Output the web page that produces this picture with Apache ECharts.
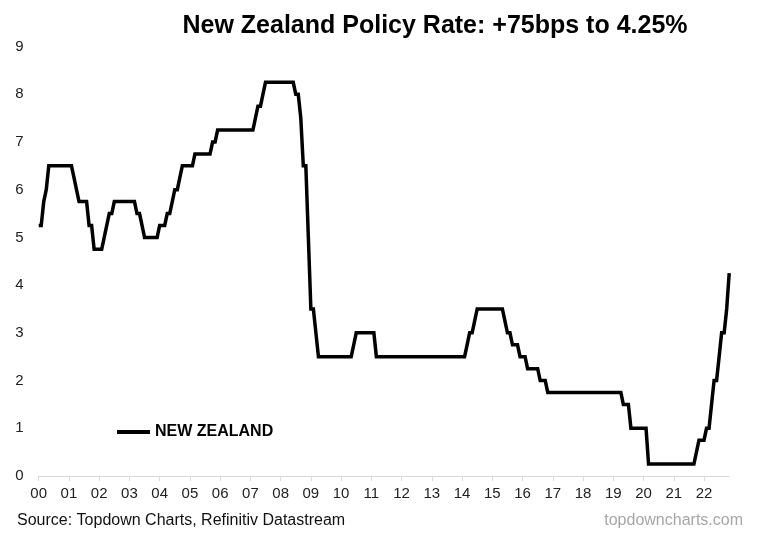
<!DOCTYPE html>
<html>
<head>
<meta charset="utf-8">
<script src="https://cdn.jsdelivr.net/npm/echarts@6/dist/echarts.min.js"></script>
<style>
html,body{margin:0;padding:0;background:#fff;}
#chart{width:758px;height:535px;}
</style>
</head>
<body>
<div id="chart"></div>
<script>
// Year labels (tick labels on x axis)
const yearLabels = ['00','01','02','03','04','05','06','07','08','09','10','11','12','13','14','15','16','17','18','19','20','21','22'];
const monthLabels = ['01','02','03','04','05','06','07','08','09','10','11','12'];
// Month-end policy rate, one array per year (Jan..Dec)
const y2000 = [5.25,5.25,5.75,6.0,6.5,6.5,6.5,6.5,6.5,6.5,6.5,6.5];
const y2001 = [6.5,6.5,6.25,6.0,5.75,5.75,5.75,5.75,5.25,5.25,4.75,4.75];
const y2002 = [4.75,4.75,5.0,5.25,5.5,5.5,5.75,5.75,5.75,5.75,5.75,5.75];
const y2003 = [5.75,5.75,5.75,5.5,5.5,5.25,5.0,5.0,5.0,5.0,5.0,5.0];
const y2004 = [5.25,5.25,5.25,5.5,5.5,5.75,6.0,6.0,6.25,6.5,6.5,6.5];
const y2005 = [6.5,6.5,6.75,6.75,6.75,6.75,6.75,6.75,6.75,7.0,7.0,7.25];
const y2006 = [7.25,7.25,7.25,7.25,7.25,7.25,7.25,7.25,7.25,7.25,7.25,7.25];
const y2007 = [7.25,7.25,7.5,7.75,7.75,8.0,8.25,8.25,8.25,8.25,8.25,8.25];
const y2008 = [8.25,8.25,8.25,8.25,8.25,8.25,8.0,8.0,7.5,6.5,6.5,5.0];
const y2009 = [3.5,3.5,3.0,2.5,2.5,2.5,2.5,2.5,2.5,2.5,2.5,2.5];
const y2010 = [2.5,2.5,2.5,2.5,2.5,2.75,3.0,3.0,3.0,3.0,3.0,3.0];
const y2011 = [3.0,3.0,2.5,2.5,2.5,2.5,2.5,2.5,2.5,2.5,2.5,2.5];
const y2012 = [2.5,2.5,2.5,2.5,2.5,2.5,2.5,2.5,2.5,2.5,2.5,2.5];
const y2013 = [2.5,2.5,2.5,2.5,2.5,2.5,2.5,2.5,2.5,2.5,2.5,2.5];
const y2014 = [2.5,2.5,2.75,3.0,3.0,3.25,3.5,3.5,3.5,3.5,3.5,3.5];
const y2015 = [3.5,3.5,3.5,3.5,3.5,3.25,3.0,3.0,2.75,2.75,2.75,2.5];
const y2016 = [2.5,2.5,2.25,2.25,2.25,2.25,2.25,2.0,2.0,2.0,1.75,1.75];
const y2017 = [1.75,1.75,1.75,1.75,1.75,1.75,1.75,1.75,1.75,1.75,1.75,1.75];
const y2018 = [1.75,1.75,1.75,1.75,1.75,1.75,1.75,1.75,1.75,1.75,1.75,1.75];
const y2019 = [1.75,1.75,1.75,1.75,1.5,1.5,1.5,1.0,1.0,1.0,1.0,1.0];
const y2020 = [1.0,1.0,0.25,0.25,0.25,0.25,0.25,0.25,0.25,0.25,0.25,0.25];
const y2021 = [0.25,0.25,0.25,0.25,0.25,0.25,0.25,0.25,0.25,0.5,0.75,0.75];
const y2022 = [0.75,1.0,1.0,1.5,2.0,2.0,2.5,3.0,3.0,3.5,4.25];

const yearly = [y2000,y2001,y2002,y2003,y2004,y2005,y2006,y2007,y2008,y2009,y2010,y2011,
                y2012,y2013,y2014,y2015,y2016,y2017,y2018,y2019,y2020,y2021,y2022];

const categories = [];
const values = [];
yearly.forEach((arr, yi) => {
  arr.forEach((v, mi) => {
    categories.push(yearLabels[yi] + '-' + monthLabels[mi]);
    values.push(v);
  });
});

const chart = echarts.init(document.getElementById('chart'), null, {renderer: 'canvas'});
const isJan = (idx, val) => String(val).slice(3) === '01';
chart.setOption({
  animation: false,
  backgroundColor: '#ffffff',
  title: {
    text: 'New Zealand Policy Rate: +75bps to 4.25%',
    left: 430,
    top: 9,
    textAlign: 'center',
    textStyle: {fontFamily: 'Liberation Sans, Arial, sans-serif', fontWeight: 'bold', fontSize: 25, color: '#000'}
  },
  grid: {left: 38.7, right: 28.8, top: 46.5, bottom: 59, containLabel: false},
  legend: {
    left: 117, top: 424, padding: 0,
    icon: 'rect', itemWidth: 33, itemHeight: 4, itemGap: 5,
    textStyle: {fontFamily: 'Liberation Sans, Arial, sans-serif', fontWeight: 'bold', fontSize: 16, color: '#000', padding: [0,0,0,0]},
    data: ['NEW ZEALAND']
  },
  xAxis: {
    type: 'category',
    data: categories,
    boundaryGap: false,
    axisLine: {lineStyle: {color: '#d9d9d9', width: 1}},
    axisTick: {show: true, interval: isJan, length: 5, lineStyle: {color: '#d9d9d9'}},
    axisLabel: {
      interval: isJan,
      formatter: v => v.slice(0, 2),
      margin: 10,
      fontFamily: 'Liberation Sans, Arial, sans-serif', fontSize: 15, color: '#222'
    },
    splitLine: {show: false}
  },
  yAxis: {
    type: 'value', min: 0, max: 9, interval: 1,
    axisLine: {show: false},
    axisTick: {show: false},
    splitLine: {show: false},
    axisLabel: {margin: 15, fontFamily: 'Liberation Sans, Arial, sans-serif', fontSize: 15, color: '#222'}
  },
  series: [{
    name: 'NEW ZEALAND',
    type: 'line',
    data: values,
    showSymbol: false,
    symbol: 'none',
    lineStyle: {color: '#000', width: 3.5, join: 'miter'},
    itemStyle: {color: '#000'}
  }],
  graphic: [
    {type: 'text', left: 17, top: 513, style: {text: 'Source: Topdown Charts, Refinitiv Datastream', fill: '#111', font: '16px "Liberation Sans", Arial, sans-serif'}},
    {type: 'text', right: 15, top: 513, style: {text: 'topdowncharts.com', fill: '#a6a6a6', font: '16px "Liberation Sans", Arial, sans-serif'}}
  ]
});
</script>
</body>
</html>
